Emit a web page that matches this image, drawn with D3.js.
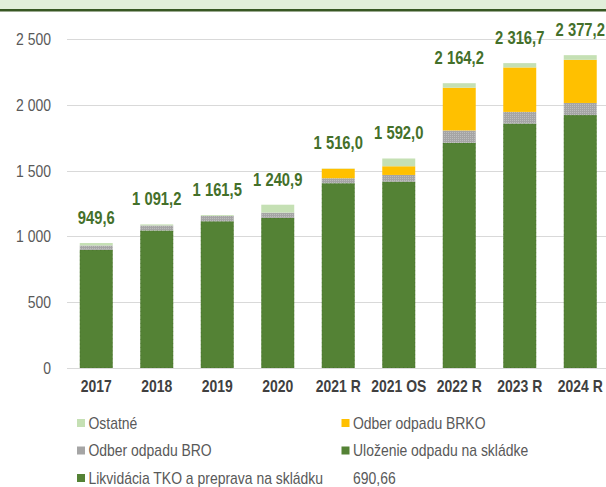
<!DOCTYPE html>
<html>
<head>
<meta charset="utf-8">
<script src="https://cdn.jsdelivr.net/npm/d3@7"></script>
<style>
  body { margin: 0; background: #fff; }
  svg { display: block; font-family: "Liberation Sans", Arial, sans-serif; }
</style>
</head>
<body>
<svg id="chart"></svg>
<script>
var width = 606;
var height = 487;

var years = ['2017', '2018', '2019', '2020', '2021 R', '2021 OS', '2022 R', '2023 R', '2024 R'];
var likvidacia = [0, 0, 0, 0, 0, 0, 0, 0, 0];
var ulozenie = [898, 1045, 1115, 1141, 1404, 1416, 1711, 1857, 1922];
var odberBro = [33, 38, 40, 40, 38, 51, 94, 89, 92];
var odberBrko = [0, 0, 0, 0, 72, 66, 325, 338, 328];
var ostatne = [18.6, 8.2, 6.5, 59.9, 2, 59, 34.2, 32.7, 35.2];
var totals = [949.6, 1091.2, 1161.5, 1240.9, 1516.0, 1592.0, 2164.2, 2316.7, 2377.2];
var yTicks = [0, 500, 1000, 1500, 2000, 2500];

var seriesNames = ['Likvidácia TKO a preprava na skládku', 'Uloženie odpadu na skládke',
  'Odber odpadu BRO', 'Odber odpadu BRKO', 'Ostatné'];
var seriesData = [likvidacia, ulozenie, odberBro, odberBrko, ostatne];
var colors = ['#548235', '#548235', 'url(#hatch)', '#ffc000', '#c5e0b4'];

var fmt = d3.formatLocale({ decimal: ',', thousands: '\u00a0', grouping: [3] });
var fmtLabel = fmt.format(',.1f');
var fmtTick = fmt.format(',');

// no narrow font installed: squeeze the glyphs like Arial Narrow
function narrow(sel) {
  sel.each(function() {
    var len = this.getComputedTextLength();
    d3.select(this)
      .attr('textLength', len * 0.82)
      .attr('lengthAdjust', 'spacingAndGlyphs');
  });
}

var table = years.map(function(y, i) {
  var row = { year: y };
  seriesNames.forEach(function(s, j) { row[s] = seriesData[j][i]; });
  return row;
});

var stack = d3.stack().keys(seriesNames)(table);

var svg = d3.select('#chart')
  .attr('width', width)
  .attr('height', height);

var pat = svg.append('defs').append('pattern')
  .attr('id', 'hatch')
  .attr('width', 2)
  .attr('height', 2)
  .attr('patternUnits', 'userSpaceOnUse');
pat.append('rect').attr('width', 2).attr('height', 2).attr('fill', '#a5a5a5');
pat.append('rect').attr('width', 1).attr('height', 1).attr('fill', '#bdbdbd');

// header band
svg.append('rect')
  .attr('x', 0).attr('y', 0)
  .attr('width', width).attr('height', 9)
  .attr('fill', '#e2efda');
svg.append('rect')
  .attr('x', 0).attr('y', 9)
  .attr('width', width).attr('height', 2.5)
  .attr('fill', '#385723');

var xScale = d3.scaleBand()
  .domain(years)
  .range([66, 610.5])
  .paddingInner(0.455)
  .paddingOuter(0.2275);

var yScale = d3.scaleLinear()
  .domain([0, 2500])
  .range([368, 39]);

// grid
svg.append('g')
  .selectAll('line')
  .data(yTicks)
  .enter()
  .append('line')
  .attr('x1', 67)
  .attr('x2', width)
  .attr('y1', d => Math.round(yScale(d)) + 0.5)
  .attr('y2', d => Math.round(yScale(d)) + 0.5)
  .attr('stroke', '#d9d9d9')
  .attr('stroke-width', 1);

var yAxis = svg.append('g')
  .attr('transform', 'translate(51,0)')
  .call(d3.axisLeft(yScale).tickValues(yTicks).tickFormat(fmtTick).tickSize(0).tickPadding(0));
yAxis.select('.domain').remove();
yAxis.selectAll('text')
  .attr('fill', '#595959')
  .style('font-size', '17px')
  .style('font-family', null)
  .call(narrow);

var xAxis = svg.append('g')
  .attr('transform', 'translate(0,368)')
  .call(d3.axisBottom(xScale).tickSize(0).tickPadding(12));
xAxis.select('.domain').remove();
xAxis.selectAll('text')
  .attr('fill', '#404040')
  .style('font-size', '17px')
  .style('font-weight', 'bold')
  .style('font-family', null)
  .call(narrow);

// bars
var layers = svg.append('g')
  .selectAll('g')
  .data(stack)
  .enter()
  .append('g')
  .attr('fill', (d, i) => colors[i]);

layers.selectAll('rect')
  .data(d => d)
  .enter()
  .append('rect')
  .attr('x', d => xScale(d.data.year))
  .attr('y', d => yScale(d[1]))
  .attr('height', d => yScale(d[0]) - yScale(d[1]))
  .attr('width', xScale.bandwidth());

// dotted edge on the green bars
svg.append('g')
  .selectAll('rect')
  .data(stack[1])
  .enter()
  .append('rect')
  .attr('x', d => xScale(d.data.year) + 0.5)
  .attr('y', d => yScale(d[1]) + 0.5)
  .attr('height', d => yScale(d[0]) - yScale(d[1]) - 1)
  .attr('width', xScale.bandwidth() - 1)
  .attr('fill', 'none')
  .attr('stroke', '#3b6324')
  .attr('stroke-width', 0.7)
  .attr('stroke-dasharray', '1,3')
  .attr('opacity', 0.6);

// totals
svg.append('g')
  .selectAll('text')
  .data(totals)
  .enter()
  .append('text')
  .attr('x', (d, i) => xScale(years[i]) + xScale.bandwidth() / 2)
  .attr('y', d => yScale(d) - 19)
  .attr('text-anchor', 'middle')
  .attr('fill', '#44702a')
  .style('font-size', '18px')
  .style('font-weight', 'bold')
  .text(d => fmtLabel(d))
  .call(narrow);

// legend
var legendItems = [
  { name: 'Ostatné', color: '#c5e0b4', col: 0, row: 0 },
  { name: 'Odber odpadu BRKO', color: '#ffc000', col: 1, row: 0 },
  { name: 'Odber odpadu BRO', color: '#a5a5a5', col: 0, row: 1 },
  { name: 'Uloženie odpadu na skládke', color: '#548235', col: 1, row: 1 },
  { name: 'Likvidácia TKO a preprava na skládku', color: '#548235', col: 0, row: 2 },
  { name: '690,66', color: null, col: 1, row: 2 }
];
var colX = [77, 341.5];

var legend = svg.append('g')
  .selectAll('g')
  .data(legendItems)
  .enter()
  .append('g')
  .attr('transform', d => 'translate(' + colX[d.col] + ',' + (423 + d.row * 27.5) + ')');

legend.filter(d => d.color)
  .append('rect')
  .attr('x', 0)
  .attr('y', -4)
  .attr('width', 8)
  .attr('height', 8)
  .attr('fill', d => d.color);

legend.append('text')
  .attr('x', 11.5)
  .attr('dy', '0.35em')
  .attr('fill', '#595959')
  .style('font-size', '17px')
  .text(d => d.name)
  .call(narrow);
</script>
</body>
</html>
